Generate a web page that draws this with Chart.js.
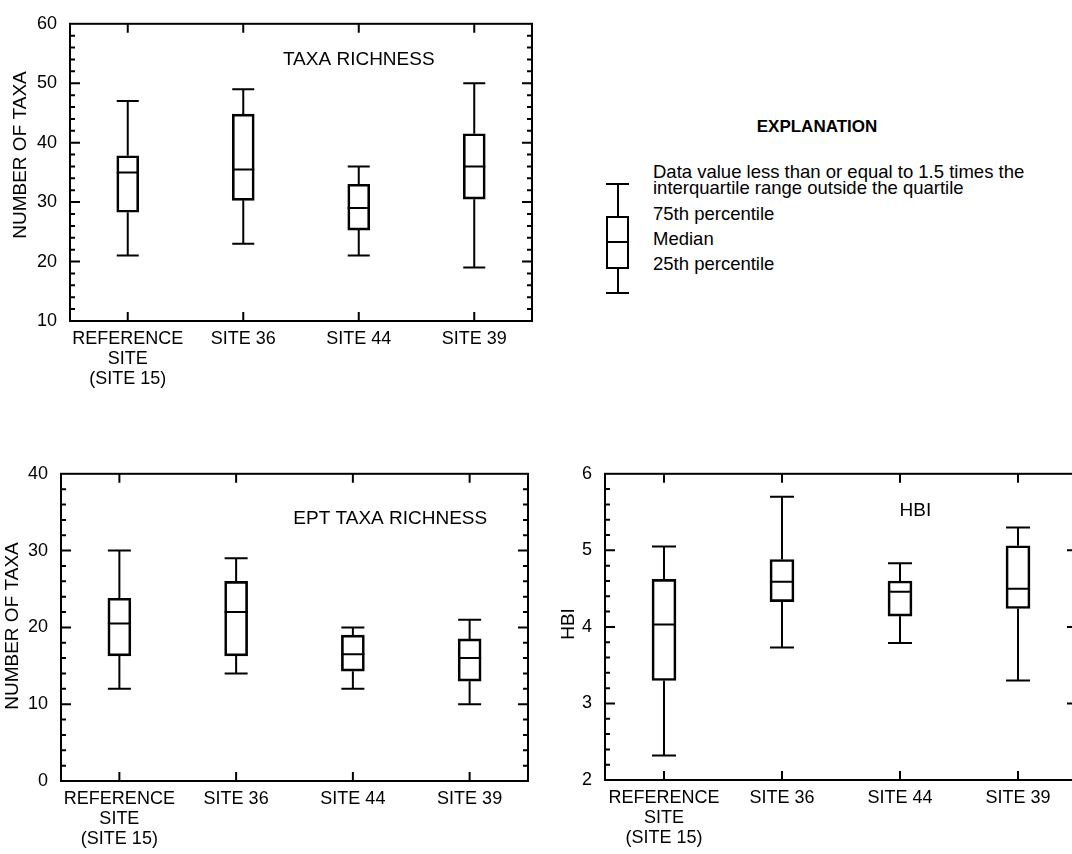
<!DOCTYPE html>
<html>
<head>
<meta charset="utf-8">
<script src="https://cdn.jsdelivr.net/npm/chart.js@4.4.1/dist/chart.umd.min.js"></script>
<style>
  html, body { margin: 0; padding: 0; background: #fff; width: 1072px; height: 854px; overflow: hidden; }
  body { position: relative; font-family: "Liberation Sans", Arial, sans-serif; color: #000; }
  .pane { position: absolute; }
  .lg { position: absolute; font-size: 18.5px; line-height: 16px; white-space: nowrap; }
  .k { position: absolute; background: #000; }
  .kbox { position: absolute; box-sizing: border-box; border: 2px solid #000; }
</style>
</head>
<body>

<div class="pane" style="left:0;top:0"><canvas id="taxaChart" width="545" height="400"></canvas></div>
<div class="pane" style="left:0;top:450px"><canvas id="eptChart" width="545" height="404"></canvas></div>
<div class="pane" style="left:545px;top:450px"><canvas id="hbiChart" width="545" height="404"></canvas></div>

<!-- explanation -->
<div class="lg" style="left:717px;top:117px;width:200px;text-align:center;font-weight:bold;font-size:17px;line-height:20px">EXPLANATION</div>
<div class="lg" style="left:653px;top:164px">Data value less than or equal to 1.5 times the</div>
<div class="lg" style="left:653px;top:180px">interquartile range outside the quartile</div>
<div class="lg" style="left:653px;top:206px">75th percentile</div>
<div class="lg" style="left:653px;top:231px">Median</div>
<div class="lg" style="left:653px;top:256px">25th percentile</div>
<div class="k" style="left:606px;top:183px;width:23px;height:2px"></div>
<div class="k" style="left:616.5px;top:184px;width:2px;height:33px"></div>
<div class="kbox" style="left:606px;top:216px;width:23px;height:53px"></div>
<div class="k" style="left:606px;top:241px;width:23px;height:2px"></div>
<div class="k" style="left:616.5px;top:268px;width:2px;height:25px"></div>
<div class="k" style="left:606px;top:292px;width:23px;height:2px"></div>

<script>
// sites along the x axis
const SITES = [["REFERENCE", "SITE", "(SITE 15)"], "SITE 36", "SITE 44", "SITE 39"];

// taxa richness
const taxaMin = [21, 23, 21, 19];
const taxaQ1  = [28.3, 30.3, 25.3, 30.5];
const taxaMed = [35, 35.5, 29, 36];
const taxaQ3  = [37.8, 44.8, 33, 41.5];
const taxaMax = [47, 49, 36, 50];
const taxaTicks = [10, 20, 30, 40, 50, 60];

// EPT taxa richness
const eptMin = [12, 14, 12, 10];
const eptQ1  = [16.3, 16.3, 14.3, 13];
const eptMed = [20.5, 22, 16.5, 16];
const eptQ3  = [23.8, 26, 19, 18.5];
const eptMax = [30, 29, 20, 21];
const eptTicks = [0, 10, 20, 30, 40];

// HBI
const hbiMin = [2.32, 3.73, 3.79, 3.3];
const hbiQ1  = [3.3, 4.33, 4.14, 4.24];
const hbiMed = [4.03, 4.59, 4.46, 4.5];
const hbiQ3  = [4.62, 4.88, 4.6, 5.06];
const hbiMax = [5.05, 5.7, 4.83, 5.3];
const hbiTicks = [2, 3, 4, 5, 6];

const FONT = "'Liberation Sans', Arial, sans-serif";

// frame + inward ticks, whiskers, medians, titles
const boxPlot = {
  id: "boxPlot",
  afterDatasetsDraw(chart, args, o) {
    const { ctx, chartArea: a, scales: { x, y } } = chart;
    ctx.save();
    ctx.strokeStyle = "#000";
    ctx.lineWidth = 2;
    ctx.strokeRect(a.left, a.top, a.right - a.left, a.bottom - a.top);

    ctx.beginPath();
    const n = Math.round((y.max - y.min) / o.minor);
    for (let k = 1; k < n; k++) {
      const v = y.min + k * o.minor;
      const major = Math.abs(v / o.major - Math.round(v / o.major)) < 1e-6;
      const len = major ? 10 : 5;
      const py = y.getPixelForValue(v);
      ctx.moveTo(a.left, py); ctx.lineTo(a.left + len, py);
      if (major || o.rightMinor) { ctx.moveTo(a.right, py); ctx.lineTo(a.right - len, py); }
    }
    SITES.forEach((_, i) => {
      const px = x.getPixelForValue(i);
      ctx.moveTo(px, a.bottom); ctx.lineTo(px, a.bottom - 9);
      ctx.moveTo(px, a.top); ctx.lineTo(px, a.top + 9);
    });
    ctx.stroke();

    // whiskers and medians
    ctx.beginPath();
    chart.getDatasetMeta(0).data.forEach((bar, i) => {
      const cx = bar.x, hw = bar.width / 2;
      const yLo = y.getPixelForValue(o.lo[i]);
      const yHi = y.getPixelForValue(o.hi[i]);
      const yMed = y.getPixelForValue(o.med[i]);
      const yQ1 = y.getPixelForValue(o.q1[i]);
      const yQ3 = y.getPixelForValue(o.q3[i]);
      ctx.moveTo(cx, yQ3); ctx.lineTo(cx, yHi);
      ctx.moveTo(cx - hw, yHi); ctx.lineTo(cx + hw, yHi);
      ctx.moveTo(cx, yQ1); ctx.lineTo(cx, yLo);
      ctx.moveTo(cx - hw, yLo); ctx.lineTo(cx + hw, yLo);
      ctx.moveTo(cx - hw, yMed); ctx.lineTo(cx + hw, yMed);
    });
    ctx.stroke();

    ctx.fillStyle = "#000";
    ctx.font = `19px ${FONT}`;
    ctx.textAlign = "center";
    ctx.textBaseline = "middle";
    ctx.fillText(o.note, x.getPixelForValue(o.noteAt[0]), y.getPixelForValue(o.noteAt[1]));

    // y axis title
    ctx.translate(o.titleAt[0], o.titleAt[1]);
    ctx.rotate(-Math.PI / 2);
    ctx.fillText(o.yTitle, 0, 0);
    ctx.restore();
  }
};

function boxChart(id, d) {
  const cv = document.getElementById(id);
  return new Chart(cv, {
    type: "bar",
    data: {
      labels: SITES,
      datasets: [{
        data: d.q1.map((v, i) => [v, d.q3[i]]),
        backgroundColor: "rgba(0,0,0,0)",
        borderColor: "#000",
        borderWidth: 2,
        borderSkipped: false,
        barThickness: d.barW
      }]
    },
    options: {
      responsive: false,
      animation: false,
      events: [],
      layout: { padding: { top: d.area.top, right: cv.width - d.area.right, left: 0, bottom: 0 } },
      plugins: {
        legend: { display: false },
        tooltip: { enabled: false },
        boxPlot: {
          lo: d.lo, q1: d.q1, med: d.med, q3: d.q3, hi: d.hi,
          minor: d.minor, major: d.major, rightMinor: d.rightMinor,
          note: d.note, noteAt: d.noteAt, yTitle: d.yTitle, titleAt: d.titleAt
        }
      },
      scales: {
        x: {
          grid: { display: false, drawTicks: false },
          border: { display: false },
          ticks: { color: "#000", padding: 8, maxRotation: 0, autoSkip: false,
                   font: { family: FONT, size: 18, lineHeight: "20px" } },
          afterFit: s => { s.height = cv.height - d.area.bottom; }
        },
        y: {
          min: d.ticks[0], max: d.ticks[d.ticks.length - 1],
          grid: { display: false, drawTicks: false },
          border: { display: false },
          afterBuildTicks: s => { s.ticks = d.ticks.map(v => ({ value: v })); },
          ticks: { color: "#000", padding: 13, font: { family: FONT, size: 18 } },
          afterFit: s => { s.width = d.area.left; }
        }
      }
    },
    plugins: [boxPlot]
  });
}

boxChart("taxaChart", {
  lo: taxaMin, q1: taxaQ1, med: taxaMed, q3: taxaQ3, hi: taxaMax, ticks: taxaTicks,
  minor: 2, major: 10, rightMinor: true,
  yTitle: "NUMBER OF TAXA", titleAt: [20.5, 155],
  note: "TAXA RICHNESS", noteAt: [2, 54],
  area: { left: 70, top: 19, right: 532, bottom: 321 }, barW: 22
});

boxChart("eptChart", {
  lo: eptMin, q1: eptQ1, med: eptMed, q3: eptQ3, hi: eptMax, ticks: eptTicks,
  minor: 2, major: 10, rightMinor: true,
  yTitle: "NUMBER OF TAXA", titleAt: [13, 176],
  note: "EPT TAXA RICHNESS", noteAt: [2.32, 34.2],
  area: { left: 61, top: 23, right: 528, bottom: 331 }, barW: 23
});

boxChart("hbiChart", {
  lo: hbiMin, q1: hbiQ1, med: hbiMed, q3: hbiQ3, hi: hbiMax, ticks: hbiTicks,
  minor: 0.2, major: 1, rightMinor: false,
  yTitle: "HBI", titleAt: [24, 174],
  note: "HBI", noteAt: [2.13, 5.52],
  area: { left: 60, top: 21, right: 532, bottom: 330 }, barW: 24
});
</script>
</body>
</html>
